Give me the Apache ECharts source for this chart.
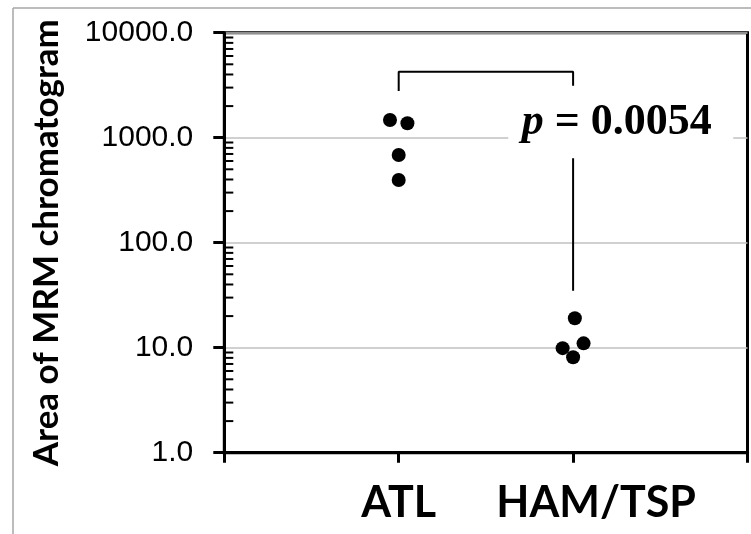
<!DOCTYPE html>
<html><head><meta charset="utf-8">
<script src="https://cdn.jsdelivr.net/npm/echarts@6/dist/echarts.min.js"></script>
<style>html,body{margin:0;padding:0;background:#fff}#c{width:751px;height:534px}</style>
</head><body><div id="c"></div>
<script>
// ---- data ----
const categories = ['ATL', 'HAM/TSP'];
const categoryPos = [1, 2];
const atlX = [0.95, 1.05, 1.0, 1.0];
const atlValues = [1475, 1371, 684, 395];
const hamX = [2.01, 1.94, 2.06, 2.0];
const hamValues = [19.1, 9.9, 11.0, 8.1];
const yMin = 1, yMax = 10000;
const pLabel = 'p';
const pValue = '0.0054';
// bracket (in data units)
const bracketLeftBottom = 2785;
const bracketTop = 4252;
const bracketRightBottom = 34.9;
// annotation anchor (data units)
const pAnchor = [2.273, 1411];

// minor log ticks 2..9 per decade
const minorTicks = [];
for (let d = yMin; d < yMax; d *= 10) {
  for (let k = 2; k <= 9; k++) minorTicks.push([0, d * k]);
}

const serifBold = {fontFamily: 'Liberation Serif', fontWeight: 'bold', fontSize: 44, fill: '#000', lineHeight: 44};

const chart = echarts.init(document.getElementById('c'), null, {renderer: 'canvas'});
const option = {
  animation: false,
  backgroundColor: '#fff',
  grid: {left: 224.3, right: 3.5, top: 32.7, bottom: 81.3, show: true,
         borderColor: '#000', borderWidth: 3, backgroundColor: 'transparent'},
  xAxis: {
    type: 'value', min: 0, max: 3, interval: 1,
    axisLine: {lineStyle: {color: '#000', width: 3}},
    axisTick: {length: 10, lineStyle: {color: '#000', width: 3}},
    splitLine: {show: false},
    axisLabel: {
      margin: 29,
      formatter: function (v) {
        const i = categoryPos.indexOf(v);
        if (i < 0) return '';
        return i === 0 ? '{a|' + categories[i] + '}' : '{b|' + categories[i] + '}';
      },
      rich: {
        a: {fontFamily: 'Lato', fontWeight: 'bold', fontSize: 43, color: '#000'},
        b: {fontFamily: 'Lato', fontWeight: 'bold', fontSize: 43, color: '#000', padding: [0, 0, 0, 46]}
      }
    }
  },
  yAxis: {
    type: 'log', logBase: 10, min: yMin, max: yMax,
    name: 'Area of MRM chromatogram',
    nameLocation: 'middle', nameGap: 160, nameRotate: 90,
    nameTextStyle: {fontFamily: 'Lato', fontWeight: 'bold', fontSize: 35, color: '#000'},
    axisLine: {lineStyle: {color: '#000', width: 3}},
    axisTick: {length: 11, lineStyle: {color: '#000', width: 3}},
    splitLine: {show: true, lineStyle: {color: '#c0c0c0', width: 1.5}},
    axisLabel: {
      margin: 31, fontFamily: 'Liberation Sans', fontSize: 30, color: '#000',
      formatter: function (v) { return Number(v).toFixed(1); }
    }
  },
  series: [
    {
      type: 'custom', z: 3, silent: true,
      data: minorTicks,
      encode: {x: 0, y: 1},
      renderItem: function (params, api) {
        const p = api.coord([api.value(0), api.value(1)]);
        return {type: 'line', shape: {x1: p[0], y1: p[1], x2: p[0] + 9, y2: p[1]},
                style: {stroke: '#000', lineWidth: 2}};
      }
    },
    {
      type: 'line', z: 4, silent: true, showSymbol: false, symbol: 'none',
      lineStyle: {color: '#000', width: 2},
      data: [[categoryPos[0], bracketLeftBottom], [categoryPos[0], bracketTop],
             [categoryPos[1], bracketTop], [categoryPos[1], bracketRightBottom]]
    },
    {
      type: 'custom', z: 6, silent: true,
      data: [pAnchor],
      encode: {x: 0, y: 1},
      renderItem: function (params, api) {
        const c = api.coord([api.value(0), api.value(1)]);
        return {
          type: 'group',
          children: [
            {type: 'rect', shape: {x: c[0] - 112.5, y: c[1] - 36.3, width: 225, height: 72.6},
             style: {fill: '#fff'}},
            {type: 'text', style: {
              text: '{i|' + pLabel + '}{n| = ' + pValue + '}',
              x: c[0] - 4, y: c[1] + 1, align: 'center', verticalAlign: 'middle',
              rich: {
                i: Object.assign({}, serifBold, {fontStyle: 'italic'}),
                n: serifBold
              }
            }}
          ]
        };
      }
    },
    {
      type: 'scatter', z: 8, silent: true, symbol: 'circle', symbolSize: 14,
      itemStyle: {color: '#000', opacity: 1},
      data: atlX.map((x, i) => [x, atlValues[i]])
    },
    {
      type: 'scatter', z: 8, silent: true, symbol: 'circle', symbolSize: 14,
      itemStyle: {color: '#000', opacity: 1},
      data: hamX.map((x, i) => [x, hamValues[i]])
    }
  ],
  graphic: [
    {type: 'line', shape: {x1: 13, y1: 8, x2: 751, y2: 8}, style: {stroke: '#a6a6a6', lineWidth: 1.5}},
    {type: 'line', shape: {x1: 13, y1: 8, x2: 13, y2: 534}, style: {stroke: '#a6a6a6', lineWidth: 1.5}}
  ]
};
chart.setOption(option);
</script>
</body></html>
